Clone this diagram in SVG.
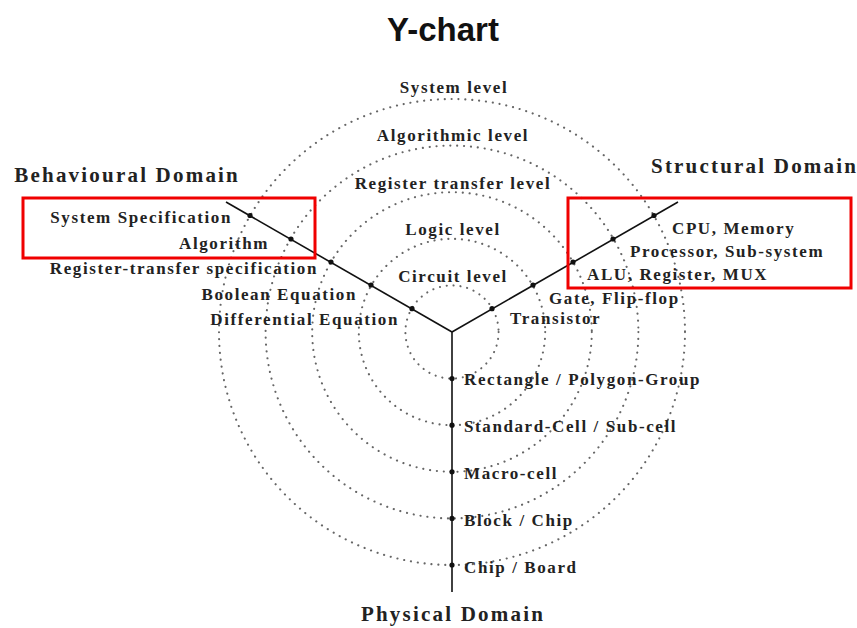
<svg xmlns="http://www.w3.org/2000/svg" width="857" height="628" viewBox="0 0 857 628">
  <style>
    .ring { fill: none; stroke: #666; stroke-width: 2.1; stroke-dasharray: 0.1 6.8; stroke-linecap: round; }
    .axis { stroke: #111; stroke-width: 1.6; fill: none; }
    .dot { fill: #111; }
    .lbl { font-family: "Liberation Serif", "Times New Roman", serif; font-weight: bold; font-size: 17px; letter-spacing: 1.6px; fill: #222; }
    .dom { font-family: "Liberation Serif", "Times New Roman", serif; font-weight: bold; font-size: 21px; letter-spacing: 2.2px; fill: #222; }
    .mid { text-anchor: middle; }
    .end { text-anchor: end; }
    .title { font-family: "Liberation Sans", Arial, sans-serif; font-weight: bold; font-size: 33px; fill: #111; text-anchor: middle; }
    .box { fill: none; stroke: #f00000; stroke-width: 3; }
  </style>
  <rect width="857" height="628" fill="#ffffff"/>

  <text class="title" x="443" y="41">Y-chart</text>

  <!-- concentric abstraction levels -->
  <g id="levels">
    <circle class="ring" cx="452" cy="332" r="46.6"/>
    <circle class="ring" cx="452" cy="332" r="93.2"/>
    <circle class="ring" cx="452" cy="332" r="139.8"/>
    <circle class="ring" cx="452" cy="332" r="186.4"/>
    <circle class="ring" cx="452" cy="332" r="233"/>
    <text class="lbl mid" x="454" y="93">System level</text>
    <text class="lbl mid" x="453" y="141">Algorithmic level</text>
    <text class="lbl mid" x="453" y="189">Register transfer level</text>
    <text class="lbl mid" x="453" y="235">Logic level</text>
    <text class="lbl mid" x="453" y="282">Circuit level</text>
  </g>

  <!-- the three domain axes -->
  <g id="connectors">
    <line class="axis" x1="452" y1="332" x2="226" y2="202"/>
    <line class="axis" x1="452" y1="332" x2="678" y2="202"/>
    <line class="axis" x1="452" y1="332" x2="452" y2="592"/>
  </g>

  <g id="behavioural">
    <text class="dom end" x="240" y="182">Behavioural Domain</text>
    <circle class="dot" cx="250" cy="215.5" r="2.6"/>
    <circle class="dot" cx="291" cy="239" r="2.6"/>
    <circle class="dot" cx="331" cy="262" r="2.6"/>
    <circle class="dot" cx="371" cy="285" r="2.6"/>
    <circle class="dot" cx="412" cy="308.7" r="2.6"/>
    <text class="lbl end" x="232" y="223">System Specification</text>
    <text class="lbl end" x="269" y="249">Algorithm</text>
    <text class="lbl end" x="318" y="274">Register-transfer specification</text>
    <text class="lbl end" x="357" y="300">Boolean Equation</text>
    <text class="lbl end" x="399" y="325">Differential Equation</text>
  </g>

  <g id="structural">
    <text class="dom" x="651" y="173">Structural Domain</text>
    <circle class="dot" cx="654" cy="215.5" r="2.6"/>
    <circle class="dot" cx="613" cy="239" r="2.6"/>
    <circle class="dot" cx="573" cy="262" r="2.6"/>
    <circle class="dot" cx="533" cy="285" r="2.6"/>
    <circle class="dot" cx="492" cy="308.7" r="2.6"/>
    <text class="lbl" x="672" y="234">CPU, Memory</text>
    <text class="lbl" x="630" y="257">Processor, Sub-system</text>
    <text class="lbl" x="587" y="280">ALU, Register, MUX</text>
    <text class="lbl" x="549" y="304">Gate, Flip-flop</text>
    <text class="lbl" x="510" y="324">Transistor</text>
  </g>

  <g id="physical">
    <circle class="dot" cx="452" cy="378.6" r="2.6"/>
    <circle class="dot" cx="452" cy="425.2" r="2.6"/>
    <circle class="dot" cx="452" cy="471.8" r="2.6"/>
    <circle class="dot" cx="452" cy="518.4" r="2.6"/>
    <circle class="dot" cx="452" cy="565" r="2.6"/>
    <text class="lbl" x="464" y="385">Rectangle / Polygon-Group</text>
    <text class="lbl" x="464" y="432">Standard-Cell / Sub-cell</text>
    <text class="lbl" x="464" y="479">Macro-cell</text>
    <text class="lbl" x="464" y="526">Block / Chip</text>
    <text class="lbl" x="464" y="573">Chip / Board</text>
    <text class="dom mid" x="453" y="621">Physical Domain</text>
  </g>

  <!-- highlight frames -->
  <g id="highlights">
    <rect class="box" x="23" y="198" width="292" height="60"/>
    <rect class="box" x="568" y="198" width="283" height="90"/>
  </g>
</svg>
